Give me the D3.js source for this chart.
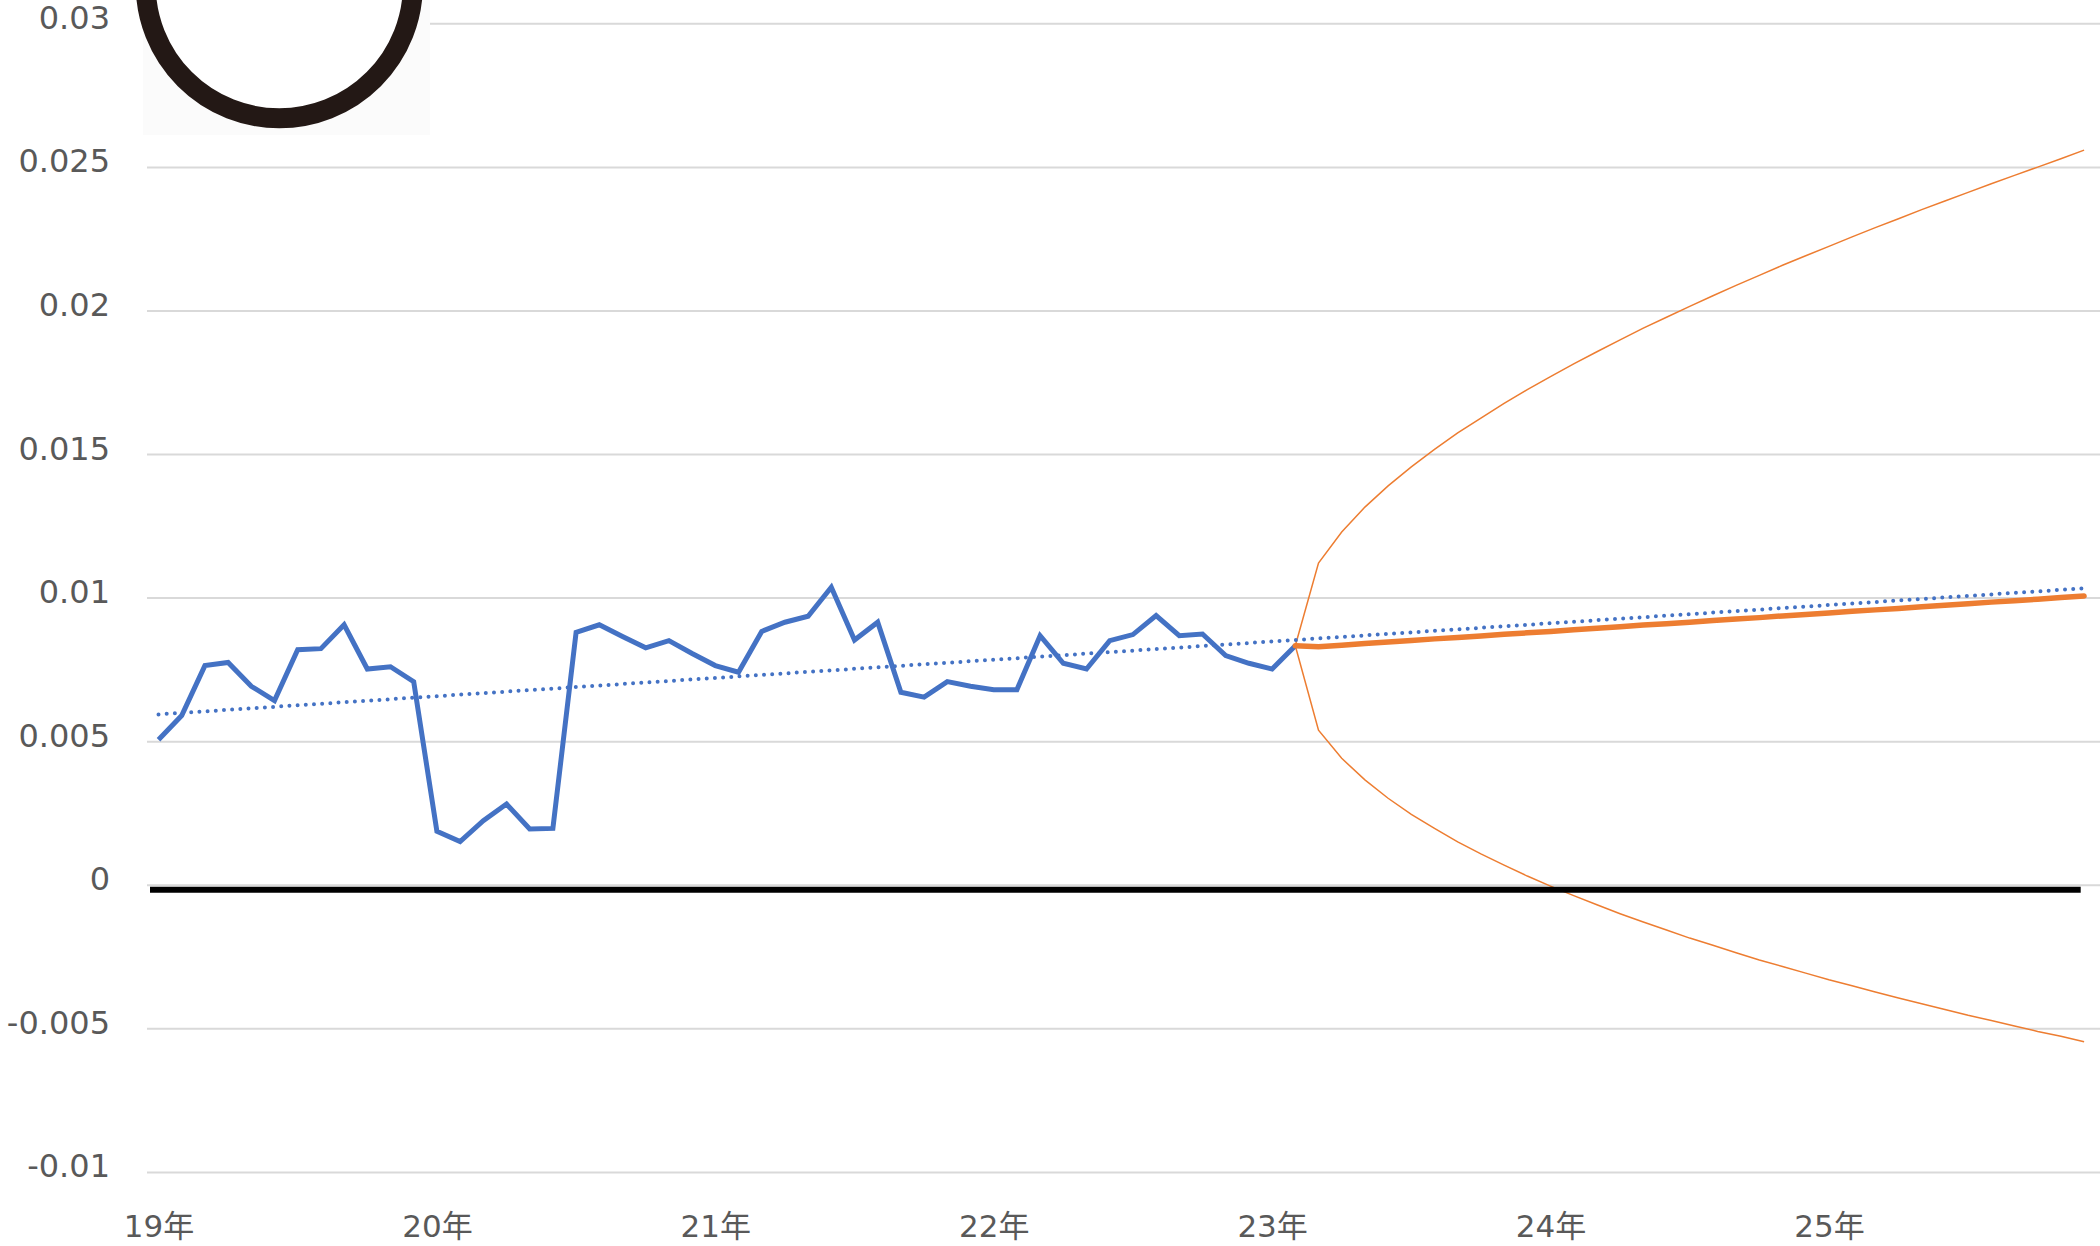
<!DOCTYPE html>
<html>
<head>
<meta charset="utf-8">
<script src="https://cdn.jsdelivr.net/npm/d3@7"></script>
<style>
  body { margin: 0; background: #fff; }
  svg { display: block; }
  text { font-family: "DejaVu Sans", "Noto Sans CJK JP", sans-serif; fill: #595959; }
</style>
</head>
<body>
<div id="chart"></div>
<script>
// year labels, one every 12 months starting Jan 2019
const years = ['19年', '20年', '21年', '22年', '23年', '24年', '25年']
const yTicks = [-0.01, -0.005, 0, 0.005, 0.01, 0.015, 0.02, 0.025, 0.03]

// monthly actuals, Jan 2019 .. Feb 2023
const actual = [
  0.00507, 0.00591, 0.00765, 0.00776, 0.00693, 0.00643, 0.00820, 0.00824, 0.00907, 0.00753, 0.00761, 0.00709,
  0.00188, 0.00152, 0.00225, 0.00283, 0.00196, 0.00198, 0.00881, 0.00907, 0.00866, 0.00827, 0.00852, 0.00807,
  0.00765, 0.00742, 0.00884, 0.00916, 0.00937, 0.01038, 0.00854, 0.00916, 0.00672, 0.00655, 0.00709, 0.00693,
  0.00681, 0.00681, 0.00869, 0.00773, 0.00753, 0.00852, 0.00873, 0.00939, 0.00869, 0.00875, 0.00800, 0.00773,
  0.00753, 0.00834
]

// forecast and bounds, Feb 2023 .. Dec 2025
const forecast = [
  0.00834, 0.00831, 0.00836, 0.00842, 0.00847, 0.00852, 0.00858, 0.00863, 0.00868, 0.00874, 0.00879, 0.00884,
  0.00890, 0.00895, 0.00900, 0.00906, 0.00911, 0.00916, 0.00922, 0.00927, 0.00932, 0.00938, 0.00943, 0.00948,
  0.00954, 0.00959, 0.00964, 0.00970, 0.00975, 0.00980, 0.00986, 0.00991, 0.00996, 0.01002, 0.01007
]
const upper = [
  0.00834, 0.01122, 0.01230, 0.01317, 0.01391, 0.01457, 0.01518, 0.01575, 0.01627, 0.01678, 0.01726, 0.01771,
  0.01816, 0.01858, 0.01899, 0.01940, 0.01978, 0.02016, 0.02053, 0.02089, 0.02124, 0.02159, 0.02192, 0.02225,
  0.02258, 0.02290, 0.02321, 0.02353, 0.02383, 0.02413, 0.02443, 0.02472, 0.02501, 0.02530, 0.02560
]
const lower = [
  0.00834, 0.00540, 0.00442, 0.00367, 0.00303, 0.00247, 0.00198, 0.00151, 0.00109, 0.00070, 0.00032, -0.00003,
  -0.00036, -0.00068, -0.00099, -0.00128, -0.00156, -0.00184, -0.00209, -0.00235, -0.00260, -0.00283, -0.00306, -0.00329,
  -0.00350, -0.00372, -0.00393, -0.00413, -0.00433, -0.00453, -0.00471, -0.00490, -0.00509, -0.00526, -0.00545
]

// linear trend at first and last month
const trend = [0.00595, 0.01034]

const width = 2100
const height = 1246
const nMonths = 84
const forecastStart = actual.length - 1

const svg = d3.select('#chart')
  .append('svg')
  .attr('width', width)
  .attr('height', height)

svg.append('rect').attr('width', width).attr('height', height).attr('fill', '#fff')

const x = d3.scaleLinear().domain([0, nMonths - 1]).range([158.5, 2084.1])
const y = d3.scaleLinear().domain([-0.01, 0.03]).range([1172.4, 23.8])

// gridlines
svg.append('g')
  .selectAll('line')
  .data(yTicks)
  .enter()
  .append('line')
  .attr('x1', 147)
  .attr('x2', width)
  .attr('y1', d => y(d))
  .attr('y2', d => y(d))
  .attr('stroke', '#d9d9d9')
  .attr('stroke-width', 2)

// y labels
const yAxis = svg.append('g')
  .attr('transform', 'translate(110,0)')
  .call(d3.axisLeft(y).tickValues(yTicks).tickSize(0).tickPadding(0).tickFormat(d => String(d)))
yAxis.select('.domain').remove()
yAxis.selectAll('text')
  .attr('dy', 4.5)
  .style('font-size', '32px')
  .style('font-family', '"DejaVu Sans", "Noto Sans CJK JP", sans-serif')
  .attr('fill', '#595959')

// x labels
const xAxis = svg.append('g')
  .attr('transform', 'translate(0,1237)')
  .call(d3.axisBottom(x).tickValues(years.map((d, i) => i * 12)).tickSize(0).tickPadding(0).tickFormat(d => years[d / 12]))
xAxis.select('.domain').remove()
xAxis.selectAll('text')
  .attr('y', 0)
  .attr('dy', 0)
  .style('font-size', '31px')
  .style('font-family', '"DejaVu Sans", "Noto Sans CJK JP", sans-serif')
  .attr('fill', '#595959')

const line = d3.line().x(d => x(d[0])).y(d => y(d[1]))

// confidence bounds
;[upper, lower].forEach(s => {
  svg.append('path')
    .datum(s.map((v, i) => [forecastStart + i, v]))
    .attr('d', line)
    .attr('fill', 'none')
    .attr('stroke', '#ED7D31')
    .attr('stroke-width', 1.5)
})

// actuals
svg.append('path')
  .datum(actual.map((v, i) => [i, v]))
  .attr('d', line)
  .attr('fill', 'none')
  .attr('stroke', '#4472C4')
  .attr('stroke-width', 5)
  .attr('stroke-linejoin', 'miter')

// forecast
svg.append('path')
  .datum(forecast.map((v, i) => [forecastStart + i, v]))
  .attr('d', line)
  .attr('fill', 'none')
  .attr('stroke', '#ED7D31')
  .attr('stroke-width', 5.5)
  .attr('stroke-linecap', 'round')

// dotted trend line
svg.append('path')
  .datum([[0, trend[0]], [nMonths - 1, trend[1]]])
  .attr('d', line)
  .attr('fill', 'none')
  .attr('stroke', '#4472C4')
  .attr('stroke-width', 4)
  .attr('stroke-linecap', 'round')
  .attr('stroke-dasharray', '0 8.2')

// heavy zero line
svg.append('line')
  .attr('x1', 150)
  .attr('x2', 2080.7)
  .attr('y1', y(0) + 4.5)
  .attr('y2', y(0) + 4.5)
  .attr('stroke', '#000')
  .attr('stroke-width', 6)

// pasted ring picture, top-left
svg.append('rect')
  .attr('x', 143)
  .attr('y', 0)
  .attr('width', 287)
  .attr('height', 135)
  .attr('fill', '#fbfbfb')
svg.append('circle')
  .attr('cx', 279.3)
  .attr('cy', -15.3)
  .attr('r', 133.6)
  .attr('fill', '#fff')
  .attr('stroke', '#231815')
  .attr('stroke-width', 20)
</script>
</body>
</html>
